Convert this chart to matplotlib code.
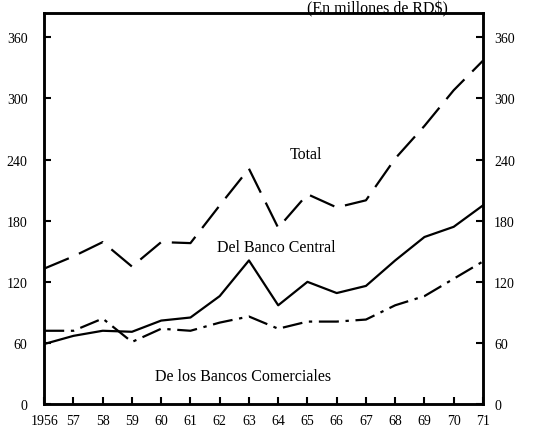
import matplotlib
matplotlib.use("Agg")
import matplotlib.pyplot as plt

# Values (millones de RD$)
years = list(range(1956, 1972))
total = [133, 145, 159, 135, 159, 158, 195, 231, 173, 206, 193, 200, 241, 273, 308, 337]
banco_central = [59, 67, 72, 71, 82, 85, 106, 141, 97, 120, 109, 116, 141, 164, 174, 195]
bancos_comerciales = [72, 72, 84, 61, 74, 72, 80, 86, 74, 81, 81, 83, 97, 106, 123, 140]

x_labels = ["1956"] + [str(y)[2:] for y in years[1:]]
y_ticks = [0, 60, 120, 180, 240, 300, 360]

plt.rcParams["font.family"] = ["Liberation Serif", "DejaVu Serif"]

fig = plt.figure(figsize=(5.39, 4.31), dpi=100)
ax = fig.add_axes([0.082, 0.060, 0.814, 0.908])

ax.plot(years, total, color="black", linewidth=1.6, dashes=(12, 5))
ax.plot(years, banco_central, color="black", linewidth=1.6)
ax.plot(years, bancos_comerciales, color="black", linewidth=1.6, dashes=(9, 3, 1.5, 3))

ax.set_xlim(1956, 1971)
ax.set_ylim(0, 384)

ax.set_xticks(years)
ax.set_xticklabels(x_labels, fontsize=10)
ax.set_yticks(y_ticks)
ax.set_yticklabels([str(v) for v in y_ticks], fontsize=10)
ax.tick_params(axis="both", direction="in", length=5, width=1.5)
ax.tick_params(axis="x", pad=7)
ax.tick_params(axis="y", pad=12)

ax2 = ax.twinx()
ax2.set_ylim(ax.get_ylim())
ax2.set_yticks(y_ticks)
ax2.set_yticklabels([str(v) for v in y_ticks], fontsize=10)
ax2.tick_params(axis="y", direction="in", length=5, width=1.5, pad=8)

for a in (ax, ax2):
    for s in a.spines.values():
        s.set_linewidth(1.8)

ax.text(1964.4, 245, "Total", fontsize=11.5, va="center")
ax.text(1961.9, 154, "Del Banco Central", fontsize=11.5, va="center")
ax.text(1959.8, 28, "De los Bancos Comerciales", fontsize=11.5, va="center")
fig.text(0.70, 0.998, "(En millones de RD$)", fontsize=11.5, ha="center", va="top")

fig.savefig("out.png", dpi=100)
